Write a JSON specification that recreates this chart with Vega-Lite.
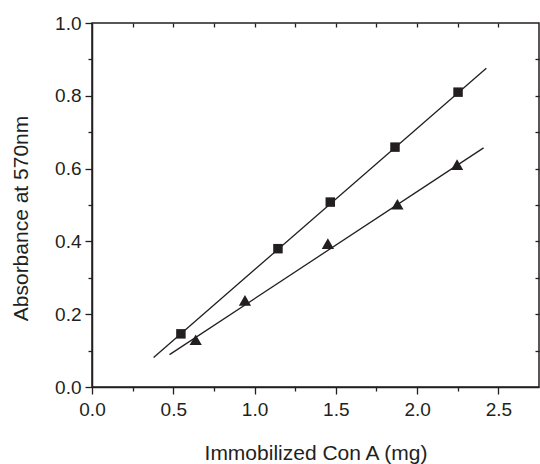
{
  "$schema": "https://vega.github.io/schema/vega-lite/v6.json",
  "width": 447,
  "height": 364,
  "autosize": "none",
  "padding": {"left": 92, "top": 23, "right": 1, "bottom": 77},
  "background": "white",
  "config": {
    "view": {"stroke": "#231f20", "strokeWidth": 1.5},
    "axis": {
      "grid": false,
      "domainColor": "#231f20",
      "domainWidth": 1.5,
      "tickColor": "#231f20",
      "tickWidth": 1.3,
      "labelColor": "#231f20",
      "titleColor": "#231f20",
      "labelFont": "Liberation Sans",
      "titleFont": "Liberation Sans",
      "labelFontSize": 19,
      "titleFontSize": 21,
      "titleFontWeight": "normal"
    }
  },
  "datasets": {
    "fits": [
      {"series": "square", "x": 0.379, "y": 0.081},
      {"series": "square", "x": 2.426, "y": 0.876},
      {"series": "triangle", "x": 0.477, "y": 0.089},
      {"series": "triangle", "x": 2.409, "y": 0.657}
    ],
    "points": [
      {"series": "square", "x": 0.547, "y": 0.146},
      {"series": "square", "x": 1.144, "y": 0.380},
      {"series": "square", "x": 1.466, "y": 0.508},
      {"series": "square", "x": 1.864, "y": 0.659},
      {"series": "square", "x": 2.252, "y": 0.810},
      {"series": "triangle", "x": 0.638, "y": 0.130},
      {"series": "triangle", "x": 0.941, "y": 0.238},
      {"series": "triangle", "x": 1.451, "y": 0.394},
      {"series": "triangle", "x": 1.879, "y": 0.502},
      {"series": "triangle", "x": 2.246, "y": 0.611}
    ]
  },
  "layer": [
    {
      "data": {"name": "fits"},
      "transform": [{"filter": "datum.series === 'square'"}],
      "mark": {"type": "line", "color": "#231f20", "strokeWidth": 1.3},
      "encoding": {
        "x": {
          "field": "x", "type": "quantitative",
          "scale": {"domain": [0, 2.75], "nice": false, "zero": false},
          "axis": {
            "orient": "bottom",
            "title": "Immobilized Con A (mg)",
            "values": [0, 0.5, 1.0, 1.5, 2.0, 2.5],
            "format": ".1f",
            "tickSize": 7,
            "labelPadding": 6,
            "titlePadding": 23,
            "labelFlush": false,
            "labelOverlap": false
          }
        },
        "y": {
          "field": "y", "type": "quantitative",
          "scale": {"domain": [0, 1], "nice": false, "zero": false},
          "axis": {
            "orient": "left",
            "title": "Absorbance at 570nm",
            "values": [0, 0.2, 0.4, 0.6, 0.8, 1.0],
            "format": ".1f",
            "tickSize": 7,
            "labelPadding": 4,
            "titlePadding": 23,
            "titleY": 195,
            "labelFlush": false,
            "labelOverlap": false
          }
        },
        "detail": {"field": "series"}
      }
    },
    {
      "data": {"name": "fits"},
      "transform": [{"filter": "datum.series === 'triangle'"}],
      "mark": {"type": "line", "color": "#231f20", "strokeWidth": 1.3},
      "encoding": {
        "x": {
          "field": "x", "type": "quantitative",
          "axis": {
            "orient": "bottom", "title": null, "labels": false, "domain": false,
            "values": [0.25, 0.75, 1.25, 1.75, 2.25], "tickSize": 4
          }
        },
        "y": {
          "field": "y", "type": "quantitative",
          "axis": {
            "orient": "left", "title": null, "labels": false, "domain": false,
            "values": [0.1, 0.3, 0.5, 0.7, 0.9], "tickSize": 4
          }
        }
      }
    },
    {
      "data": {"name": "points"},
      "transform": [{"filter": "datum.series === 'square'"}],
      "mark": {"type": "point", "shape": "square", "filled": true, "size": 90, "color": "#231f20", "opacity": 1},
      "encoding": {
        "x": {
          "field": "x", "type": "quantitative",
          "axis": {
            "orient": "top", "title": null, "labels": false, "domain": false,
            "values": [0.25, 0.5, 0.75, 1.0, 1.25, 1.5, 1.75, 2.0, 2.25, 2.5], "tickSize": -4
          }
        },
        "y": {
          "field": "y", "type": "quantitative",
          "axis": {
            "orient": "right", "title": null, "labels": false, "domain": false,
            "values": [0.1, 0.2, 0.3, 0.4, 0.5, 0.6, 0.7, 0.8, 0.9], "tickSize": -4
          }
        }
      }
    },
    {
      "data": {"name": "points"},
      "transform": [{"filter": "datum.series === 'triangle'"}],
      "mark": {"type": "point", "shape": "triangle-up", "filled": true, "size": 150, "color": "#231f20", "opacity": 1},
      "encoding": {
        "x": {"field": "x", "type": "quantitative", "axis": null},
        "y": {"field": "y", "type": "quantitative", "axis": null}
      }
    }
  ],
  "resolve": {"axis": {"x": "independent", "y": "independent"}}
}
